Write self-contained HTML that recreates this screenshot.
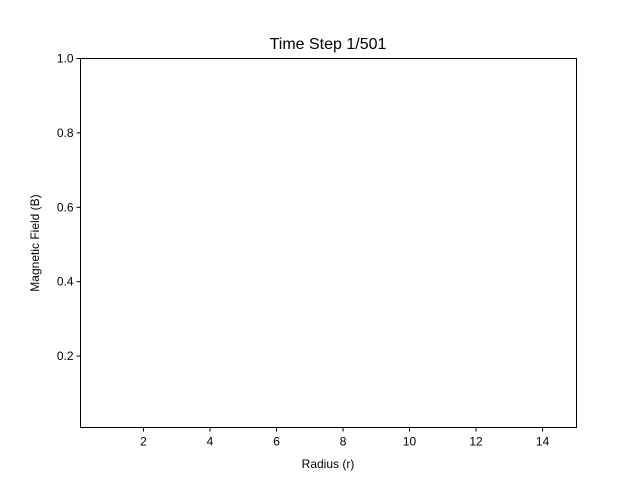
<!DOCTYPE html>
<html><head><meta charset="utf-8"><style>
html,body{margin:0;padding:0;background:#fff;}
svg text{font-family:"Liberation Sans","DejaVu Sans",sans-serif;fill:#000;}
</style></head><body>
<svg id="chart" width="640" height="480" xmlns="http://www.w3.org/2000/svg">
<rect width="640" height="480" fill="#fff"/>
<text x="328" y="49" font-size="16" text-anchor="middle">Time Step 1/501</text>
<text x="328" y="468" font-size="12" text-anchor="middle">Radius (r)</text>
<text x="0" y="0" font-size="12" text-anchor="middle" transform="translate(39,243) rotate(-90)">Magnetic Field (B)</text>
<g id="ticks"></g>
<rect x="80.5" y="58.5" width="496" height="369" fill="none" stroke="#000" stroke-width="1"/>
</svg>
<script>
const xTicks=[2,4,6,8,10,12,14];
const yTicks=[0.2,0.4,0.6,0.8,1.0];
const xDomain=[0.105,15.02];
const yDomain=[0.008,1.0];
const L=80.5,R=576.5,T=58.5,B=427.5;
function sx(v){return L+(v-xDomain[0])/(xDomain[1]-xDomain[0])*(R-L);}
function sy(v){return B-(v-yDomain[0])/(yDomain[1]-yDomain[0])*(B-T);}
const g=document.getElementById('ticks');
const NS='http://www.w3.org/2000/svg';
xTicks.forEach(v=>{
  const x=sx(v);
  const l=document.createElementNS(NS,'line');
  
  
  l.setAttribute('x1',x);l.setAttribute('x2',x);l.setAttribute('y1',B);l.setAttribute('y2',B+4);
  l.setAttribute('stroke','#000');g.appendChild(l);
  const t=document.createElementNS(NS,'text');
  
  
  t.setAttribute('x',x);t.setAttribute('y',B+18);t.setAttribute('font-size','12');t.setAttribute('text-anchor','middle');
  t.textContent=String(v);g.appendChild(t);
});
yTicks.forEach(v=>{
  const y=sy(v);
  const l=document.createElementNS(NS,'line');
  
  
  l.setAttribute('x1',L-4);l.setAttribute('x2',L);l.setAttribute('y1',y);l.setAttribute('y2',y);
  l.setAttribute('stroke','#000');g.appendChild(l);
  const t=document.createElementNS(NS,'text');
  
  
  t.setAttribute('x',L-7);t.setAttribute('y',y+4);t.setAttribute('font-size','12');t.setAttribute('text-anchor','end');
  t.textContent=v.toFixed(1);g.appendChild(t);
});
</script>
</body></html>
